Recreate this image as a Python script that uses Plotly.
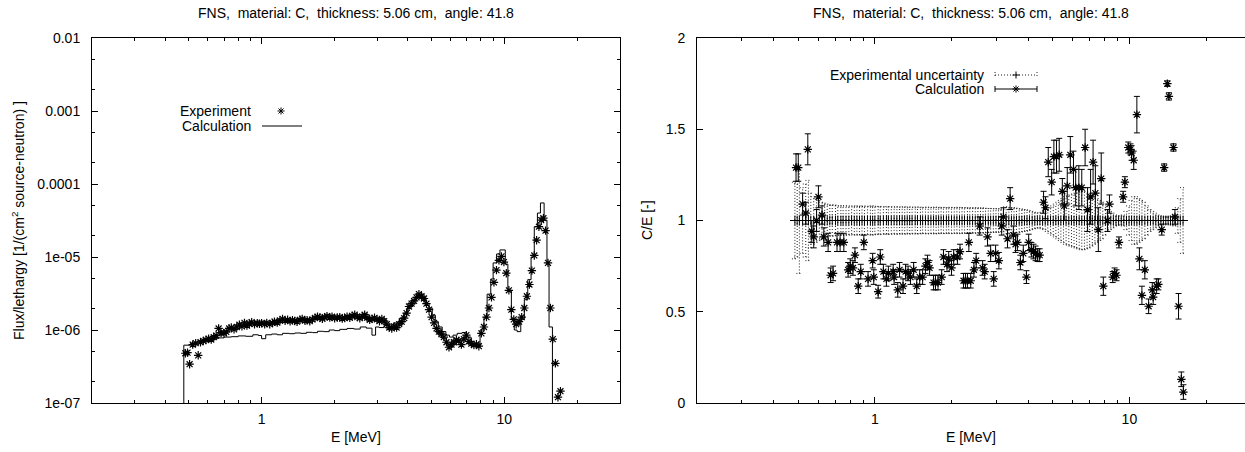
import math
import plotly.graph_objects as go

# ---------------- data ----------------
# Left panel: experimental flux/lethargy
E_exp = [0.485, 0.495, 0.505, 0.52, 0.535, 0.548, 0.56, 0.575, 0.59, 0.605,
         0.62, 0.635, 0.65, 0.665, 0.68, 0.70, 0.715, 0.735, 0.75, 0.77,
         0.79, 0.81, 0.83, 0.85, 0.87, 0.89, 0.91, 0.935, 0.96, 0.98,
         1.0, 1.03, 1.05, 1.08, 1.11, 1.13, 1.16, 1.19, 1.22, 1.25,
         1.28, 1.31, 1.34, 1.37, 1.40, 1.44, 1.47, 1.51, 1.54, 1.58,
         1.62, 1.66, 1.70, 1.74, 1.78, 1.82, 1.86, 1.91, 1.95, 2.0,
         2.05, 2.1, 2.15, 2.2, 2.25, 2.31, 2.36, 2.42, 2.48, 2.54,
         2.6, 2.66, 2.72, 2.79, 2.85, 2.92, 2.99, 3.06, 3.13, 3.2,
         3.28, 3.36, 3.44, 3.52, 3.6, 3.69, 3.78, 3.87, 3.96, 4.05,
         4.15, 4.25, 4.35, 4.45, 4.56, 4.67, 4.78, 4.9, 5.02, 5.14,
         5.26, 5.38, 5.51, 5.64, 5.78, 5.92, 6.06, 6.2, 6.35, 6.5,
         6.66, 6.82, 6.98, 7.15, 7.32, 7.5, 7.68, 7.86, 8.05, 8.25,
         8.45, 8.65, 8.86, 9.07, 9.29, 9.51, 9.74, 9.97, 10.2, 10.45,
         10.7, 10.95, 11.2, 11.5, 11.8, 12.1, 12.4, 12.7, 13.0, 13.3,
         13.6, 13.9, 14.2, 14.5, 14.8, 15.15, 15.5, 15.85, 16.25, 16.65,
         17.05]
F_exp = [4.8e-7, 4.9e-7, 3.4e-7, 6.3e-7, 6.6e-7, 4.5e-7, 6.8e-7, 7.1e-7, 7.3e-7, 7.6e-7,
         7.4e-7, 8.0e-7, 8.4e-7, 1.05e-6, 9.2e-7, 9.0e-7, 9.4e-7, 1.05e-6, 1.08e-6, 1.02e-6,
         1.1e-6, 1.18e-6, 1.12e-6, 1.25e-6, 1.15e-6, 1.22e-6, 1.28e-6, 1.2e-6, 1.24e-6, 1.22e-6,
         1.24e-6, 1.2e-6, 1.25e-6, 1.2e-6, 1.25e-6, 1.3e-6, 1.26e-6, 1.35e-6, 1.42e-6, 1.34e-6,
         1.38e-6, 1.32e-6, 1.36e-6, 1.33e-6, 1.3e-6, 1.38e-6, 1.42e-6, 1.34e-6, 1.36e-6, 1.32e-6,
         1.4e-6, 1.46e-6, 1.52e-6, 1.48e-6, 1.42e-6, 1.5e-6, 1.55e-6, 1.48e-6, 1.52e-6, 1.45e-6,
         1.48e-6, 1.5e-6, 1.43e-6, 1.46e-6, 1.52e-6, 1.47e-6, 1.56e-6, 1.62e-6, 1.5e-6, 1.45e-6,
         1.54e-6, 1.62e-6, 1.48e-6, 1.38e-6, 1.42e-6, 1.47e-6, 1.4e-6, 1.32e-6, 1.42e-6, 1.32e-6,
         1.2e-6, 1.08e-6, 1.05e-6, 1.12e-6, 1.08e-6, 1.2e-6, 1.3e-6, 1.45e-6, 1.7e-6, 2.1e-6,
         2.3e-6, 2.5e-6, 2.8e-6, 3.1e-6, 2.9e-6, 2.7e-6, 2.3e-6, 1.9e-6, 1.5e-6, 1.25e-6,
         1.05e-6, 9.5e-7, 8.8e-7, 8.0e-7, 6.8e-7, 5.8e-7, 6.3e-7, 6.8e-7, 7.3e-7, 7.1e-7,
         6.3e-7, 7.5e-7, 8.5e-7, 7.0e-7, 6.5e-7, 6.2e-7, 6.4e-7, 6.0e-7, 9.0e-7, 1.1e-6,
         1.5e-6, 2.0e-6, 2.8e-6, 4.5e-6, 6.6e-6, 9.0e-6, 1.02e-5, 8.5e-6, 6.0e-6, 3.5e-6,
         1.9e-6, 1.4e-6, 1.2e-6, 1.3e-6, 1.5e-6, 2.0e-6, 2.9e-6, 4.2e-6, 6.5e-6, 1.05e-5,
         1.7e-5, 2.6e-5, 3.2e-5, 3.4e-5, 2.3e-5, 8.3e-6, 2.0e-6, 7.5e-7, 3.5e-7, 1.2e-7,
         1.45e-7]

# Left panel: calculated group flux (histogram)
calc_edges = [0.478, 0.51, 0.545, 0.58, 0.62, 0.66, 0.70, 0.75, 0.80, 0.86,
              0.92, 0.97, 1.0, 1.04, 1.1, 1.16, 1.22, 1.3, 1.37, 1.45,
              1.53, 1.62, 1.7, 1.8, 1.9, 2.0, 2.1, 2.25, 2.4, 2.55,
              2.7, 2.85, 2.95, 3.05, 3.2, 3.35, 3.5, 3.7, 3.85, 4.0,
              4.15, 4.3, 4.45, 4.6, 4.75, 4.9, 5.05, 5.2, 5.35, 5.55,
              5.75, 5.95, 6.15, 6.4, 6.7, 7.0, 7.3, 7.6, 7.95, 8.25,
              8.5, 8.8, 9.0, 9.3, 9.6, 10.1, 10.35, 10.7, 11.0, 11.3,
              11.7, 12.1, 12.5, 12.9, 13.3, 13.7, 14.1, 14.6, 15.0, 15.3,
              15.8]
calc_flux = [6.2e-7, 6.6e-7, 7.0e-7, 7.3e-7, 7.6e-7, 7.8e-7, 8.0e-7, 8.1e-7, 8.3e-7, 8.2e-7,
             8.6e-7, 8.4e-7, 7.6e-7, 8.6e-7, 8.8e-7, 8.6e-7, 9.0e-7, 8.9e-7, 9.1e-7, 9.0e-7,
             9.3e-7, 9.2e-7, 9.6e-7, 9.5e-7, 1.0e-6, 9.8e-7, 1.02e-6, 1.05e-6, 1.03e-6, 1.1e-6,
             1.06e-6, 8.5e-7, 1.1e-6, 1.08e-6, 1.15e-6, 1.1e-6, 1.25e-6, 1.45e-6, 1.7e-6, 2.1e-6,
             2.5e-6, 2.8e-6, 3.0e-6, 2.8e-6, 2.3e-6, 2.0e-6, 1.6e-6, 1.3e-6, 1.1e-6, 9.5e-7,
             8.5e-7, 8.0e-7, 8.5e-7, 9.0e-7, 9.2e-7, 8.0e-7, 6.5e-7, 5.9e-7, 1.0e-6, 1.5e-6,
             3.1e-6, 5.0e-6, 8.3e-6, 1.1e-5, 1.25e-5, 8.0e-6, 3.5e-6, 1.4e-6, 1.0e-6, 9.5e-7,
             1.4e-6, 2.6e-6, 4.9e-6, 1.0e-5, 2.6e-5, 4.0e-5, 5.5e-5, 3.2e-5, 8.0e-6, 1.1e-6]

# Right panel: relative experimental uncertainty at the experimental energies
unc = [0.21, 0.20, 0.29, 0.18, 0.20, 0.22, 0.15, 0.13, 0.12, 0.11,
       0.10, 0.095, 0.09, 0.085, 0.085, 0.085, 0.08, 0.08, 0.08, 0.08,
       0.08, 0.075, 0.08, 0.078, 0.08, 0.077, 0.08, 0.076, 0.078, 0.08,
       0.078, 0.075, 0.077, 0.075, 0.074, 0.076, 0.075, 0.073, 0.075, 0.074,
       0.073, 0.075, 0.072, 0.074, 0.073, 0.072, 0.074, 0.073, 0.071, 0.072,
       0.073, 0.072, 0.071, 0.073, 0.072, 0.07, 0.072, 0.071, 0.07, 0.072,
       0.071, 0.07, 0.072, 0.07, 0.071, 0.069, 0.07, 0.068, 0.07, 0.069,
       0.068, 0.069, 0.067, 0.066, 0.066, 0.065, 0.064, 0.065, 0.063, 0.062,
       0.075, 0.072, 0.07, 0.07, 0.068, 0.065, 0.063, 0.06, 0.058, 0.055,
       0.05, 0.045, 0.042, 0.04, 0.045, 0.05, 0.06, 0.07, 0.08, 0.09,
       0.10, 0.11, 0.12, 0.13, 0.135, 0.14, 0.145, 0.15, 0.155, 0.16,
       0.16, 0.155, 0.15, 0.14, 0.13, 0.12, 0.11, 0.10, 0.08, 0.06,
       0.05, 0.04, 0.03, 0.025, 0.025, 0.03, 0.05, 0.08, 0.11, 0.13,
       0.13, 0.12, 0.11, 0.10, 0.08, 0.06, 0.05, 0.04, 0.03, 0.025,
       0.02, 0.02, 0.02, 0.02, 0.025, 0.03, 0.07, 0.12, 0.18]

# Right panel: C/E ratios
E_ce = [0.49, 0.50, 0.52, 0.535, 0.545, 0.565, 0.575, 0.59, 0.60, 0.62,
        0.63, 0.655, 0.67, 0.685, 0.71, 0.73, 0.755, 0.785, 0.80, 0.82,
        0.835, 0.86, 0.88, 0.905, 0.94, 0.98, 0.99, 1.03, 1.05, 1.08,
        1.11, 1.13, 1.18, 1.19, 1.23, 1.25, 1.29, 1.32, 1.35, 1.38,
        1.42, 1.46, 1.50, 1.54, 1.58, 1.61, 1.64, 1.70, 1.73, 1.77,
        1.83, 1.86, 1.92, 1.95, 2.0, 2.04, 2.11, 2.16, 2.23, 2.27,
        2.31, 2.34, 2.38, 2.45, 2.50, 2.58, 2.65, 2.70, 2.77, 2.85,
        2.93, 2.98, 3.07, 3.15, 3.20, 3.32, 3.40, 3.50, 3.57, 3.63,
        3.73, 3.83, 3.94, 4.02, 4.12, 4.20, 4.28, 4.36, 4.44, 4.60,
        4.68, 4.80, 4.95, 5.05, 5.17, 5.30, 5.45, 5.55, 5.70, 5.86,
        6.03, 6.15, 6.33, 6.50, 6.70, 6.85, 7.04, 7.20, 7.35, 7.55,
        7.75, 7.90, 8.20, 8.35, 8.60, 8.75, 8.90, 9.10, 9.45, 9.60,
        9.90, 10.1, 10.2, 10.4, 10.7, 10.95, 11.2, 11.5, 11.9, 12.3,
        12.4, 12.8, 13.0, 13.4, 13.7, 14.1, 14.3, 14.9, 15.1, 15.6,
        16.0, 16.3]
CE = [1.29, 1.29, 1.09, 1.04, 1.39, 0.94, 0.91, 1.0, 1.13, 1.03,
      0.91, 0.88, 0.70, 0.71, 0.88, 0.88, 0.88, 0.73, 0.75, 0.74,
      0.81, 0.64, 0.72, 0.88, 0.68, 0.78, 0.69, 0.61, 0.80, 0.72,
      0.68, 0.71, 0.72, 0.69, 0.62, 0.73, 0.64, 0.72, 0.71, 0.69,
      0.73, 0.64, 0.69, 0.69, 0.75, 0.77, 0.74, 0.66, 0.66, 0.66,
      0.69, 0.80, 0.76, 0.79, 0.74, 0.80, 0.80, 0.83, 0.67, 0.67,
      0.67, 0.88, 0.67, 0.73, 0.78, 0.97, 0.74, 0.72, 0.91, 0.82,
      0.68, 0.82, 0.78, 0.97, 1.02, 0.90, 1.12, 0.92, 0.87, 0.88,
      0.77, 0.82, 0.69, 0.88, 0.84, 0.83, 0.82, 0.81, 0.81, 1.10,
      1.07, 1.32, 1.21, 1.35, 1.35, 1.36, 1.16, 1.08, 1.19, 1.36,
      1.28, 1.18, 1.18, 1.18, 1.40, 1.06, 1.13, 1.32, 1.15, 0.95,
      1.23, 0.64, 1.00, 1.09, 0.69, 0.71, 0.70, 0.88, 1.13, 1.21,
      1.40, 1.39, 1.37, 1.33, 1.58, 0.79, 0.59, 0.73, 0.53, 0.62,
      0.58, 0.64, 0.65, 0.95, 1.29, 1.75, 1.68, 1.40, 1.02, 0.53,
      0.13, 0.06]
CE_err = [0.075, 0.075, 0.06, 0.06, 0.085, 0.06, 0.06, 0.06, 0.06, 0.05,
          0.05, 0.05, 0.04, 0.04, 0.05, 0.05, 0.05, 0.04, 0.04, 0.04,
          0.04, 0.04, 0.04, 0.04, 0.04, 0.04, 0.04, 0.035, 0.04, 0.04,
          0.04, 0.04, 0.04, 0.04, 0.04, 0.04, 0.04, 0.04, 0.04, 0.04,
          0.04, 0.04, 0.04, 0.04, 0.04, 0.04, 0.04, 0.04, 0.04, 0.04,
          0.04, 0.04, 0.04, 0.04, 0.04, 0.04, 0.04, 0.04, 0.04, 0.04,
          0.04, 0.05, 0.04, 0.04, 0.04, 0.05, 0.04, 0.04, 0.05, 0.045,
          0.04, 0.045, 0.045, 0.05, 0.05, 0.05, 0.06, 0.05, 0.045, 0.045,
          0.04, 0.045, 0.035, 0.045, 0.04, 0.04, 0.04, 0.035, 0.035, 0.06,
          0.06, 0.08, 0.07, 0.09, 0.09, 0.09, 0.07, 0.08, 0.10, 0.10,
          0.10, 0.10, 0.12, 0.10, 0.10, 0.12, 0.15, 0.12, 0.15, 0.12,
          0.14, 0.05, 0.06, 0.05, 0.03, 0.03, 0.03, 0.03, 0.03, 0.03,
          0.03, 0.03, 0.04, 0.05, 0.10, 0.06, 0.05, 0.05, 0.04, 0.04,
          0.04, 0.04, 0.03, 0.03, 0.02, 0.015, 0.02, 0.02, 0.04, 0.07,
          0.04, 0.04]

TITLE = "FNS,  material: C,  thickness: 5.06 cm,  angle: 41.8"
xtick_vals = [1, 10]
xtick_text = ["1", "10"]
ytick_vals_left = [1e-7, 1e-6, 1e-5, 1e-4, 1e-3, 1e-2]
ytick_text_left = ["1e-07", "1e-06", "1e-05", "0.0001", "0.001", "0.01"]
ytick_vals_right = [0, 0.5, 1, 1.5, 2]
ytick_text_right = ["0", "0.5", "1", "1.5", "2"]

# ---------------- figure ----------------
W, H = 1245, 452
FONT = "Liberation Sans, Arial, Helvetica, sans-serif"
BLACK = "black"
DOT = "#222222"


def px(x):
    """window pixel x -> paper fraction"""
    return x / W


def py(y):
    """window pixel y -> paper fraction"""
    return 1 - y / H


fig = go.Figure()

# calculation histogram (step line)
floor = 1e-9
cx = [calc_edges[0]] + calc_edges[:-1] + [calc_edges[-1], calc_edges[-1]]
cy = [floor] + calc_flux + [calc_flux[-1], floor]
fig.add_trace(go.Scatter(x=cx, y=cy, mode="lines", line=dict(color=BLACK, width=1, shape="hv"),
                         xaxis="x", yaxis="y", showlegend=False, hoverinfo="skip"))
# experiment points
fig.add_trace(go.Scatter(x=E_exp, y=F_exp, mode="markers",
                         marker=dict(symbol="asterisk-open", size=7, color=BLACK,
                                     line=dict(color=BLACK, width=1.2)),
                         xaxis="x", yaxis="y", showlegend=False))

# uncertainty band: dotted error bars around 1
k = 10 ** (3 / 254.5)
ux, uy = [], []
for e, u in zip(E_exp, unc):
    ux += [e, e, None, e / k, e * k, None, e / k, e * k, None]
    uy += [1 - u, 1 + u, None, 1 - u, 1 - u, None, 1 + u, 1 + u, None]
fig.add_trace(go.Scatter(x=ux, y=uy, mode="lines", line=dict(color=DOT, width=1, dash="1px,2px"),
                         xaxis="x2", yaxis="y2", showlegend=False, hoverinfo="skip", connectgaps=False))
E_unc = [e for e, _ in zip(E_exp, unc)]
fig.add_trace(go.Scatter(x=E_unc, y=[1] * len(E_unc), mode="markers",
                         marker=dict(symbol="cross-thin-open", size=7, color=BLACK,
                                     line=dict(color=BLACK, width=1)),
                         xaxis="x2", yaxis="y2", showlegend=False))
# C/E points
fig.add_trace(go.Scatter(x=E_ce, y=CE, mode="markers",
                         marker=dict(symbol="asterisk-open", size=7, color=BLACK,
                                     line=dict(color=BLACK, width=1.2)),
                         error_y=dict(type="data", array=CE_err, visible=True, color=BLACK,
                                      thickness=1, width=3),
                         xaxis="x2", yaxis="y2", showlegend=False))

ydom = [py(403), py(38)]
minor_x = [0.3, 0.4, 0.5, 0.6, 0.7, 0.8, 0.9, 2, 3, 4, 5, 6, 7, 8, 9, 20]
minor_y = []
for d in range(-7, -2):
    minor_y += [2 * 10 ** d, 5 * 10 ** d]

common = dict(showline=True, linecolor=BLACK, linewidth=1, ticks="inside", ticklen=6,
              tickcolor=BLACK, tickwidth=1, showgrid=False, zeroline=False, automargin=False,
              tickfont=dict(family=FONT, size=14, color=BLACK))

fig.update_layout(
    template="none",
    width=W, height=H, margin=dict(l=0, r=0, t=0, b=0, pad=0), autosize=False,
    paper_bgcolor="white", plot_bgcolor="white", showlegend=False,
    font=dict(family=FONT, size=14, color=BLACK),
    xaxis=dict(type="log", range=[math.log10(0.2), math.log10(30)], domain=[px(92), px(620)],
               anchor="y", mirror="ticks", tickvals=xtick_vals, ticktext=xtick_text,
               ticklabelstandoff=3,
               minor=dict(tickvals=minor_x, ticks="inside", ticklen=3, tickcolor=BLACK),
               **common),
    yaxis=dict(type="log", range=[-7, -2], domain=ydom, anchor="x", mirror="ticks",
               tickvals=ytick_vals_left, ticktext=ytick_text_left, ticklabelstandoff=8,
               minor=dict(tickvals=minor_y, ticks="inside", ticklen=3, tickcolor=BLACK),
               **common),
    xaxis2=dict(type="log", range=[math.log10(0.2), math.log10(0.2) + (W - 697) / 254.5],
                domain=[px(697), 1.0], anchor="y2", mirror="ticks",
                tickvals=xtick_vals, ticktext=xtick_text, ticklabelstandoff=3,
                minor=dict(tickvals=minor_x, ticks="inside", ticklen=3, tickcolor=BLACK),
                **common),
    yaxis2=dict(range=[0, 2], domain=ydom, anchor="x2", mirror=False,
                tickvals=ytick_vals_right, ticktext=ytick_text_right, ticklabelstandoff=8,
                **common),
)

ann_font = dict(family=FONT, size=14, color=BLACK)
title_text = TITLE.replace("  ", "\u00a0\u00a0")
annotations = [
    dict(text=title_text, x=px(356), y=py(13), xref="paper", yref="paper", showarrow=False,
         xanchor="center", yanchor="middle", font=ann_font),
    dict(text=title_text, x=px(971), y=py(13), xref="paper", yref="paper", showarrow=False,
         xanchor="center", yanchor="middle", font=ann_font),
    dict(text="E [MeV]", x=px(356), y=py(437), xref="paper", yref="paper", showarrow=False,
         xanchor="center", yanchor="middle", font=ann_font),
    dict(text="E [MeV]", x=px(971), y=py(437), xref="paper", yref="paper", showarrow=False,
         xanchor="center", yanchor="middle", font=ann_font),
    dict(text="Flux/lethargy [1/(cm<sup>2</sup> source-neutron) ]", x=px(18), y=py(221),
         xref="paper", yref="paper", showarrow=False, textangle=-90,
         xanchor="center", yanchor="middle", font=ann_font),
    dict(text="C/E [-]", x=px(647), y=py(220), xref="paper", yref="paper", showarrow=False,
         textangle=-90, xanchor="center", yanchor="middle", font=ann_font),
    dict(text="Experiment", x=px(253), y=py(111), xref="paper", yref="paper", showarrow=False,
         xanchor="right", yanchor="middle", font=ann_font),
    dict(text="Calculation", x=px(253), y=py(126), xref="paper", yref="paper", showarrow=False,
         xanchor="right", yanchor="middle", font=ann_font),
    dict(text="Experimental uncertainty", x=px(986), y=py(75), xref="paper", yref="paper",
         showarrow=False, xanchor="right", yanchor="middle", font=ann_font),
    dict(text="Calculation", x=px(986), y=py(89), xref="paper", yref="paper", showarrow=False,
         xanchor="right", yanchor="middle", font=ann_font),
]
fig.update_layout(annotations=annotations)

ASTER = "M-3.5,0 L3.5,0 M0,-3.5 L0,3.5 M-2.5,-2.5 L2.5,2.5 M-2.5,2.5 L2.5,-2.5"
PLUS = "M-3.5,0 L3.5,0 M0,-3.5 L0,3.5"


def marker_shape(path, x, y):
    return dict(type="path", path=path, xref="paper", yref="paper", xsizemode="pixel",
                ysizemode="pixel", xanchor=px(x), yanchor=py(y),
                line=dict(color=BLACK, width=1))


def seg(x0, y0, x1, y1, dash="solid", color=BLACK):
    return dict(type="line", xref="paper", yref="paper", x0=px(x0), y0=py(y0), x1=px(x1),
                y1=py(y1), line=dict(color=color, width=1, dash=dash))


shapes = [
    marker_shape(ASTER, 281, 111),
    seg(262, 126, 302, 126),
    seg(995, 75, 1037, 75, "1px,2px", DOT),
    seg(995, 72, 995, 78, "1px,2px", DOT),
    seg(1037, 72, 1037, 78, "1px,2px", DOT),
    marker_shape(PLUS, 1016, 75),
    seg(995, 89, 1037, 89),
    seg(995, 86, 995, 92),
    seg(1037, 86, 1037, 92),
    marker_shape(ASTER, 1016, 89),
]
fig.update_layout(shapes=shapes)

# remove the browser's default 8px page margin so the figure fills the window exactly
fig.write_html("out.html",
               config={"displayModeBar": False, "staticPlot": True},
               post_script="document.body.style.margin='0px';document.body.style.overflow='hidden';")
